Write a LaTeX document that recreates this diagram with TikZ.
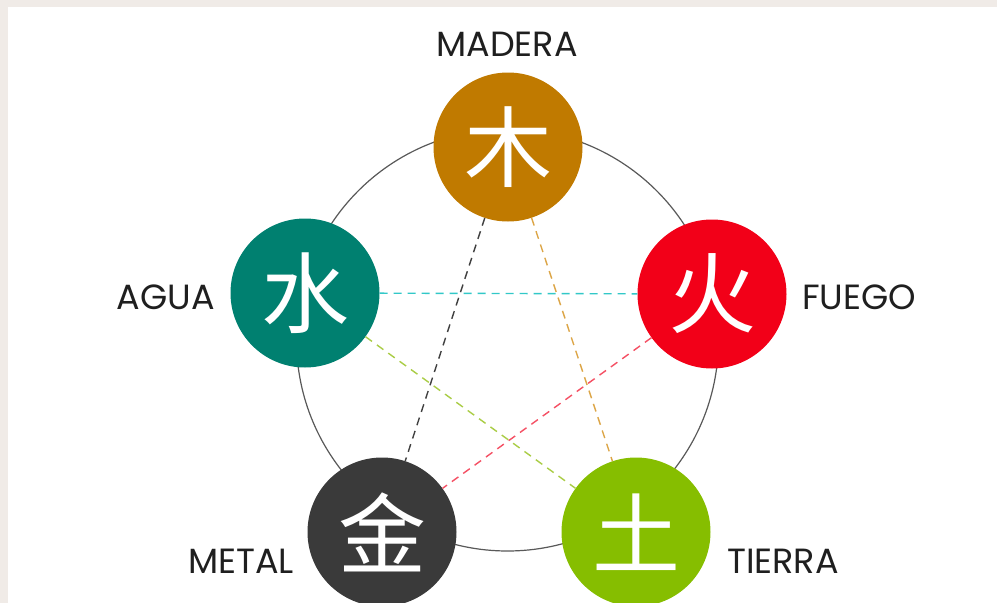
\documentclass[tikz,border=0pt]{standalone}
\usepackage{fontspec}
\setmainfont{Poppins}
\newfontfamily\cjk{Noto Sans CJK SC}
\usepackage{xcolor}
\usepackage{tikz}
\usetikzlibrary{positioning}

\definecolor{paper}{RGB}{240,235,231}
\definecolor{wood}{RGB}{192,122,0}
\definecolor{water}{RGB}{0,128,112}
\definecolor{fire}{RGB}{242,0,24}
\definecolor{metalc}{RGB}{58,58,58}
\definecolor{earth}{RGB}{134,190,0}
\definecolor{woodline}{RGB}{220,165,70}
\definecolor{waterline}{RGB}{50,200,200}
\definecolor{earthline}{RGB}{170,205,70}
\definecolor{fireline}{RGB}{245,80,100}

\begin{document}
\begin{tikzpicture}[x=1pt, y=-1pt,
    elem/.style={circle, fill=#1, minimum size=149pt, inner sep=0pt, text=white, font=\cjk\fontsize{88}{88}\selectfont},
    lbl/.style={font=\fontsize{35}{36}\selectfont, text=black!88, inner sep=0pt},
    link/.style={dash pattern=on 8pt off 6pt, line width=1.4pt, draw=#1},
    ring/.style={draw=black!65, line width=1.2pt}
]
    \useasboundingbox (0,0) rectangle (997,603);
    \clip (0,0) rectangle (997,603);
    \fill[paper] (0,0) rectangle (997,603);
    \fill[white] (8,7) rectangle (997,603);

    \draw[ring] (507.5,340) circle (211pt);

    \node[elem=wood] (wood) at (508,147) {木};
    \node[elem=water] (water) at (305,293) {水};
    \node[elem=fire] (fire) at (712,294) {火};
    \node[elem=metalc] (metal) at (382,532) {金};
    \node[elem=earth] (earth) at (636,532) {土};

    \node[lbl] (madera) at (507,44) {MADERA};
    \node[lbl, anchor=east] (agua) at (215,297) {AGUA};
    \node[lbl, anchor=west] (fuego) at (802,297) {FUEGO};
    \node[lbl, anchor=east] (metallbl) at (294,561) {METAL};
    \node[lbl, anchor=west] (tierra) at (727,561) {TIERRA};

    \draw[link=black!75] (wood) -- (metal);
    \draw[link=woodline] (wood) -- (earth);
    \draw[link=waterline] (water) -- (fire);
    \draw[link=earthline] (water) -- (earth);
    \draw[link=fireline] (fire) -- (metal);

\end{tikzpicture}
\end{document}
